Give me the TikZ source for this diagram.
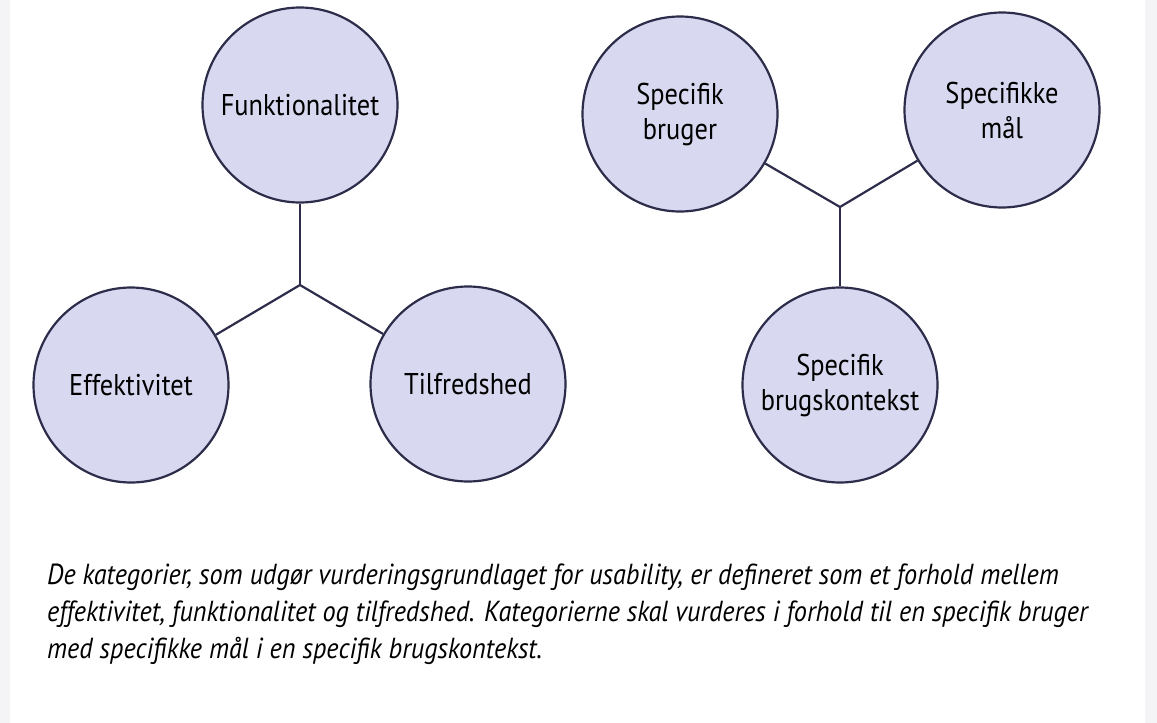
\documentclass[tikz,border=0pt]{standalone}
\usepackage{fontspec}
\setmainfont{PT Sans}
\newfontfamily\narrowfont[FakeStretch=0.88]{PT Sans}
\newfontfamily\captionfont[FakeStretch=0.905]{PT Sans}
\usetikzlibrary{positioning}
\definecolor{ringfill}{RGB}{216,216,240}
\definecolor{ringline}{RGB}{45,45,75}
\definecolor{sidegray}{RGB}{244,244,246}

\begin{document}
\begin{tikzpicture}[x=1pt,y=-1pt]
            \useasboundingbox (0,0) rectangle (1157,723);
            \fill[sidegray] (0,0) rectangle (10,723);
            \fill[sidegray] (1145,0) rectangle (1157,723);

            \begin{scope}[every node/.style={circle,draw=ringline,line width=2.2pt,fill=ringfill,
                          minimum size=195pt,inner sep=0pt,align=center,
                          font=\narrowfont\fontsize{30}{35}\selectfont}]
                \node (Fu) at (300,105) {Funktionalitet};
                \node (Ef) at (131,385) {Effektivitet};
                \node (Ti) at (468,384) {Tilfredshed};
                \node (Br) at (680,114) {Specifik\\bruger};
                \node (Ma) at (1002,110) {Specifikke\\mål};
                \node (Ko) at (840,385) {Specifik\\brugskontekst};
            \end{scope}

            \coordinate (J1) at (300,285);
            \coordinate (J2) at (840,207);

            \begin{scope}[every edge/.style={draw=ringline,line width=2.2pt}]
                \path [-] (J1) edge (Fu);
                \path [-] (J1) edge (Ef);
                \path [-] (J1) edge (Ti);
                \path [-] (J2) edge (Br);
                \path [-] (J2) edge (Ma);
                \path [-] (J2) edge (Ko);
            \end{scope}

            \begin{scope}[every node/.style={anchor=base west,inner sep=0pt,
                          font=\captionfont\itshape\fontsize{29}{37}\selectfont}]
                \node (C1) at (47,584) {De kategorier, som udgør vurderingsgrundlaget for usability, er defineret som et forhold mellem};
                \node (C2) at (47,621) {effektivitet, funktionalitet og tilfredshed. Kategorierne skal vurderes i forhold til en specifik bruger};
                \node (C3) at (47,658) {med specifikke mål i en specifik brugskontekst.};
            \end{scope}
        \end{tikzpicture}
\end{document}
